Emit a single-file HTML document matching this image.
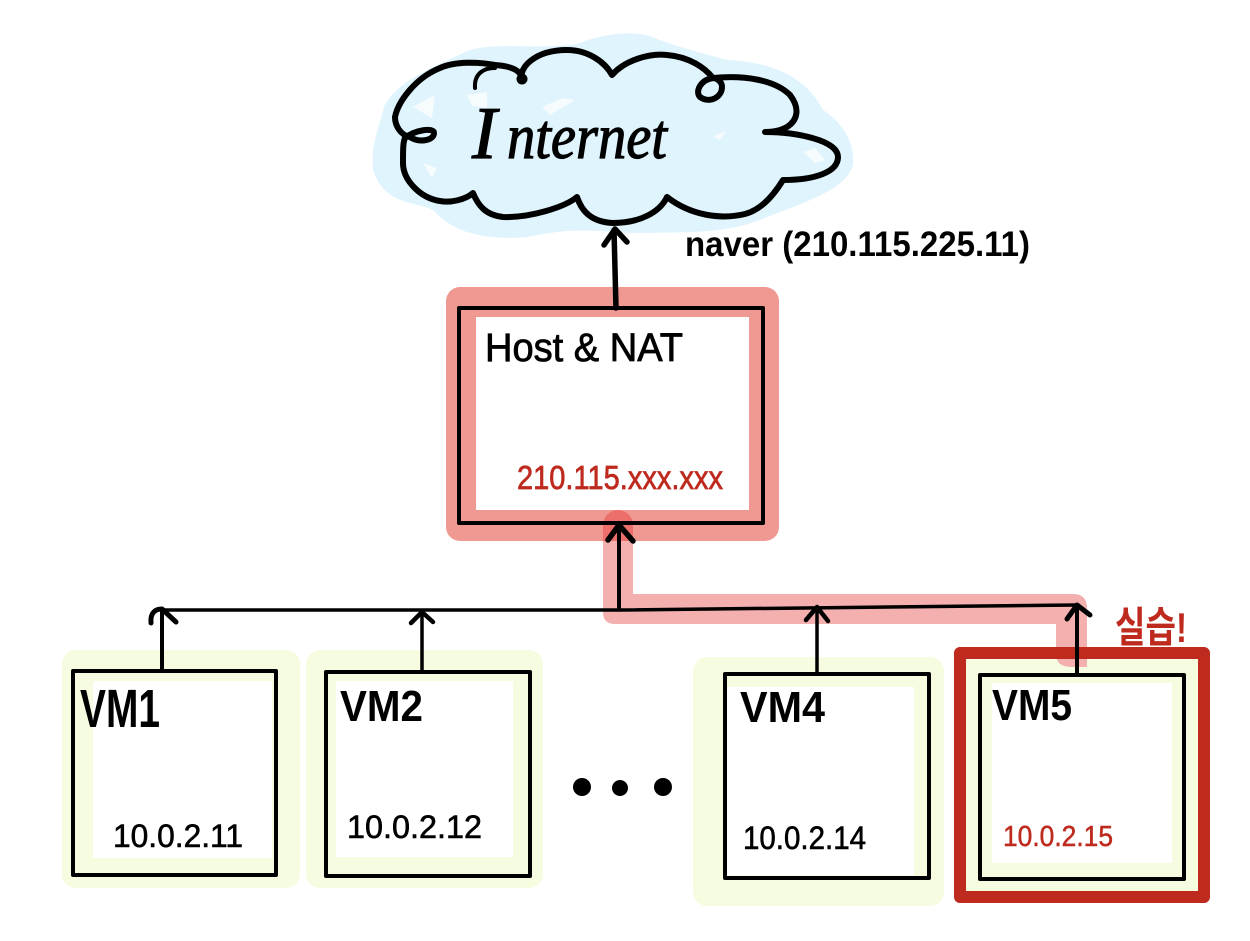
<!DOCTYPE html>
<html><head><meta charset="utf-8"><style>
html,body{margin:0;padding:0;background:#fff;width:1250px;height:941px;overflow:hidden}
svg{display:block}
text{font-family:"Liberation Sans","Noto Sans CJK KR",sans-serif}
text.s{font-family:"Liberation Serif",serif;font-style:italic}
</style></head><body>
<svg width="1250" height="941" viewBox="0 0 1250 941" xmlns="http://www.w3.org/2000/svg">
<rect width="1250" height="941" fill="#fff"/>
<!-- cloud fill -->
<path d="M373 170 C370 145 380 125 384 107 C395 85 420 72 470 50 C500 42 530 50 577 44 C600 35 625 30 650 36 C668 44 690 50 727 60 C770 62 805 75 823 110 C835 118 855 135 853 165 C845 190 810 200 760 220 C720 235 680 232 627 233 C590 230 570 228 527 237 C490 240 455 235 433 210 C410 200 385 205 373 170 Z" fill="#dff4fc"/>
<path d="M413 107 L435 95 L432 118 Z M467 95 L487 92 L487 108 L472 106 Z M542 107 L563 98 L575 100 L550 115 Z M713 137 L727 130 L720 140 Z M803 152 L815 148 L825 160 L815 163 Z M423 163 L437 168 L432 178 Z" fill="#fff" opacity=".7"/>
<!-- host -->
<rect x="446" y="287" width="333" height="254" rx="14" fill="#f09892"/>
<rect x="476" y="317" width="273" height="193" fill="#fff"/>
<!-- pink route -->
<path d="M603 525 a15 15 0 0 1 30 0 V541 H603 Z" fill="#ec6f6c"/>
<path d="M603 541 V612 Q603 624 615 624 H1056 V654 Q1056 667 1072 667 H1087 V608 Q1087 594 1073 594 H633 V541 Z" fill="#f4b0ae"/>
<!-- VM backgrounds -->
<rect x="62" y="650" width="238" height="238" rx="14" fill="#f5fce0"/>
<rect x="93" y="681" width="179" height="177" fill="#fff"/>
<rect x="306" y="650" width="237" height="238" rx="14" fill="#f5fce0"/>
<rect x="336" y="681" width="177" height="176" fill="#fff"/>
<rect x="693" y="657" width="251" height="249" rx="14" fill="#f5fce0"/>
<rect x="727" y="687" width="187" height="188" fill="#fff"/>
<rect x="960" y="653" width="244" height="244" fill="#f5fce0"/>
<path d="M1056 653 V654 Q1056 667 1072 667 H1087 V653 Z" fill="#f4b0ae"/>
<rect x="992" y="683" width="180" height="180" fill="#fff"/>
<rect x="960" y="653" width="244" height="244" fill="none" stroke="#bf2a1e" stroke-width="12" stroke-linejoin="round"/>
<!-- cloud outline -->
<g fill="none" stroke="#000" stroke-width="6" stroke-linecap="round" stroke-linejoin="round">
<path d="M522 80 C518 68 535 50 567 50 C588 50 605 62 612 75 C625 60 650 53 667 55 C690 57 705 68 713 78 C700 80 695 92 700 97 C710 104 722 97 722 87 C722 81 716 78 713 78 C745 75 775 80 790 95 C800 108 798 120 787 127 C780 131 772 132 765 132 C795 132 838 140 838 157 C838 172 815 180 783 180 C772 198 760 210 745 214 C720 220 690 215 667 197 C660 212 640 223 613 223 C592 222 582 212 577 197 C565 207 530 218 503 217 C485 215 478 205 473 193 C465 200 450 203 440 201 C420 198 403 180 403 163 C403 150 403 142 405 138 C415 130 434 127 434 133 C434 141 418 143 410 137 C400 135 395 125 395 117 C398 102 415 78 440 68 C455 61 480 62 495 65 C510 66 522 70 522 80"/>
<path d="M475 88 C474 75 482 68 495 68" stroke-width="4"/>
</g>
<circle cx="522" cy="79" r="5.5" fill="#000"/>
<!-- host & boxes -->
<g fill="none" stroke="#000" stroke-linejoin="round" stroke-linecap="round">
<rect x="459" y="308" width="304" height="215" stroke-width="4"/>
<rect x="73" y="671" width="203" height="204" stroke-width="4"/>
<rect x="326" y="672" width="204" height="204" stroke-width="4"/>
<rect x="725" y="674" width="204" height="204" stroke-width="4"/>
<rect x="980" y="675" width="204" height="204" stroke-width="4"/>
<!-- connectors -->
<path d="M162 610 L620 610 L1076 605" stroke-width="3.5"/>
<path d="M616 308 L614 230" stroke-width="5.5"/>
<path d="M604 245 L615 229 L627 242" stroke-width="5.5"/>
<path d="M619 607 L619 525" stroke-width="4"/>
<path d="M608 540 L619 525 L633 541" stroke-width="5.5"/>
<path d="M162 671 V610" stroke-width="4"/>
<path d="M151 623 C150 612 156 609 162 609 L176 622" stroke-width="5"/>
<path d="M422 672 V612" stroke-width="3.5"/>
<path d="M411 623 L422 612 L433 622" stroke-width="4.5"/>
<path d="M817 674 V607" stroke-width="3.5"/>
<path d="M806 620 L817 607 L828 621" stroke-width="4.5"/>
<path d="M1077 675 V605" stroke-width="4"/>
<path d="M1067 619 L1077 605 L1090 615" stroke-width="5"/>
</g>
<circle cx="582" cy="787" r="9"/>
<circle cx="620" cy="788" r="8"/>
<circle cx="663" cy="787" r="9"/>
<!-- labels -->
<text class="s" x="472" y="158" font-size="74" stroke="#000" stroke-width="1.2">I</text>
<text class="s" x="507" y="158" font-size="64" stroke="#000" stroke-width="1.2" textLength="160" lengthAdjust="spacingAndGlyphs">nternet</text>
<text x="685" y="256" font-size="35" font-weight="bold" textLength="345" lengthAdjust="spacingAndGlyphs">naver (210.115.225.11)</text>
<text x="485" y="361" font-size="40" stroke="#000" stroke-width=".8" textLength="198" lengthAdjust="spacingAndGlyphs">Host &amp; NAT</text>
<text x="517" y="489" font-size="33" fill="#bf2a1e" stroke="#bf2a1e" stroke-width=".7" textLength="206" lengthAdjust="spacingAndGlyphs">210.115.xxx.xxx</text>
<text x="80" y="727" font-size="54" font-weight="bold" textLength="80" lengthAdjust="spacingAndGlyphs">VM1</text>
<text x="340" y="721" font-size="44" font-weight="bold" textLength="83" lengthAdjust="spacingAndGlyphs">VM2</text>
<text x="740" y="722" font-size="44" font-weight="bold" textLength="85" lengthAdjust="spacingAndGlyphs">VM4</text>
<text x="992" y="720" font-size="44" font-weight="bold" textLength="80" lengthAdjust="spacingAndGlyphs">VM5</text>
<text x="113" y="847" font-size="32" stroke="#000" stroke-width=".6" textLength="130" lengthAdjust="spacingAndGlyphs">10.0.2.11</text>
<text x="347" y="838" font-size="32" stroke="#000" stroke-width=".6" textLength="135" lengthAdjust="spacingAndGlyphs">10.0.2.12</text>
<text x="743" y="849" font-size="32" stroke="#000" stroke-width=".6" textLength="123" lengthAdjust="spacingAndGlyphs">10.0.2.14</text>
<text x="1003" y="846" font-size="29" fill="#bf2a1e" stroke="#bf2a1e" stroke-width=".5" textLength="110" lengthAdjust="spacingAndGlyphs">10.0.2.15</text>
<text x="1115" y="642" font-size="42" font-weight="bold" fill="#bf2a1e" textLength="72" lengthAdjust="spacingAndGlyphs">실습!</text>
</svg>
</body></html>
